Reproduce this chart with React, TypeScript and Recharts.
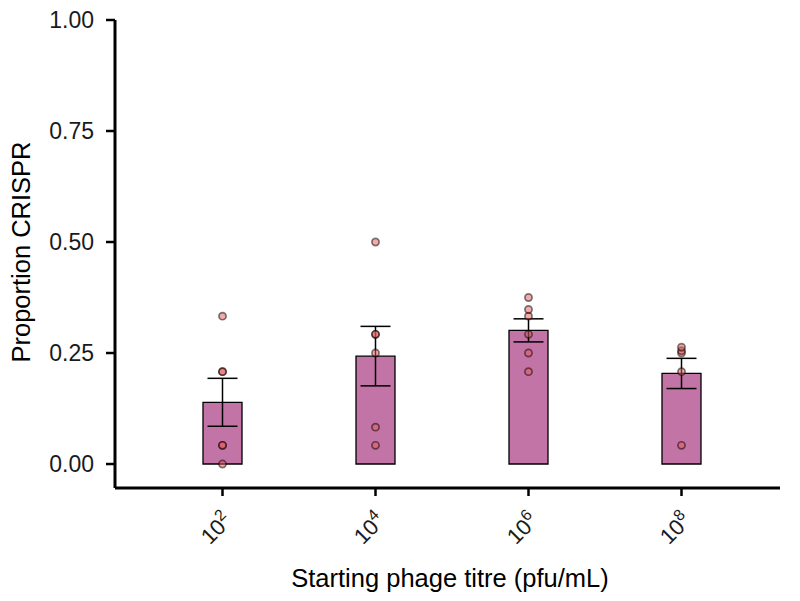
import React from 'react';
import { ComposedChart, Bar, Scatter, ErrorBar, XAxis, YAxis } from 'recharts';

const exponents = ['2', '4', '6', '8'];
const means = [0.139, 0.243, 0.301, 0.204];
const errors = [0.054, 0.067, 0.026, 0.034];
const replicates = [
  [0, 0.042, 0.042, 0.208, 0.208, 0.333],
  [0.042, 0.083, 0.25, 0.292, 0.292, 0.5],
  [0.208, 0.25, 0.292, 0.333, 0.348, 0.375],
  [0.042, 0.208, 0.25, 0.255, 0.263],
];
const yTicks = [0, 0.25, 0.5, 0.75, 1];

const barData = exponents.map((e, i) => ({ titre: e, mean: means[i], err: errors[i] }));
const pointData = exponents.flatMap((e, i) => replicates[i].map((v) => ({ titre: e, value: v })));

const FONT = '"Liberation Sans", Arial, sans-serif';

// rotated "10^n" labels, right end hung just under the tick
const TitreTick = (props: any) => {
  const { x, y, payload } = props;
  return (
    <g transform={`translate(${x + 11},${y + 24}) rotate(-45)`}>
      <text textAnchor="end" fontFamily={FONT} fontSize={22} fill="#1a1a1a">
        10
        <tspan dy={-9} fontSize={16}>{payload.value}</tspan>
      </text>
    </g>
  );
};

const Dot = (props: any) => (
  <circle
    cx={props.cx}
    cy={props.cy}
    r={3.6}
    fill="#e85a5a"
    fillOpacity={0.5}
    stroke="#000"
    strokeOpacity={0.5}
    strokeWidth={1.7}
  />
);

const App: React.FC = () => {
  return (
    <div style={{ position: 'absolute', left: 0, top: 0, width: 800, height: 601, background: '#fff' }}>
      <ComposedChart
        width={800}
        height={601}
        data={barData}
        margin={{ top: 20, right: 20, left: 0, bottom: 0 }}
      >
        <XAxis
          dataKey="titre"
          type="category"
          allowDuplicatedCategory={false}
          height={113}
          padding={{ left: 31, right: 22 }}
          stroke="#000"
          strokeWidth={3}
          tickSize={8}
          tickLine={{ stroke: '#000', strokeWidth: 2.5 }}
          tick={<TitreTick />}
          interval={0}
        />
        <YAxis
          type="number"
          domain={[-0.054, 1]}
          ticks={yTicks}
          width={115}
          stroke="#000"
          strokeWidth={3}
          tickSize={9}
          tickMargin={12}
          tickLine={{ stroke: '#000', strokeWidth: 2.5 }}
          tickFormatter={(v: number) => v.toFixed(2)}
          tick={{ fontFamily: FONT, fontSize: 23, fill: '#1a1a1a' }}
          allowDataOverflow
        />
        <Bar
          dataKey="mean"
          barSize={39}
          fill="#c274a7"
          stroke="#000"
          strokeWidth={1.3}
          isAnimationActive={false}
        >
          <ErrorBar dataKey="err" width={15} stroke="#000" strokeWidth={1.5} direction="y" />
        </Bar>
        <Scatter data={pointData} dataKey="value" shape={<Dot />} isAnimationActive={false} />
        <text x={450} y={587} textAnchor="middle" fontFamily={FONT} fontSize={25.5} fill="#000">
          Starting phage titre (pfu/mL)
        </text>
        <text
          x={0}
          y={0}
          transform="translate(30,252) rotate(-90)"
          textAnchor="middle"
          fontFamily={FONT}
          fontSize={25.5}
          fill="#000"
        >
          Proportion CRISPR
        </text>
      </ComposedChart>
    </div>
  );
};

export default App;
